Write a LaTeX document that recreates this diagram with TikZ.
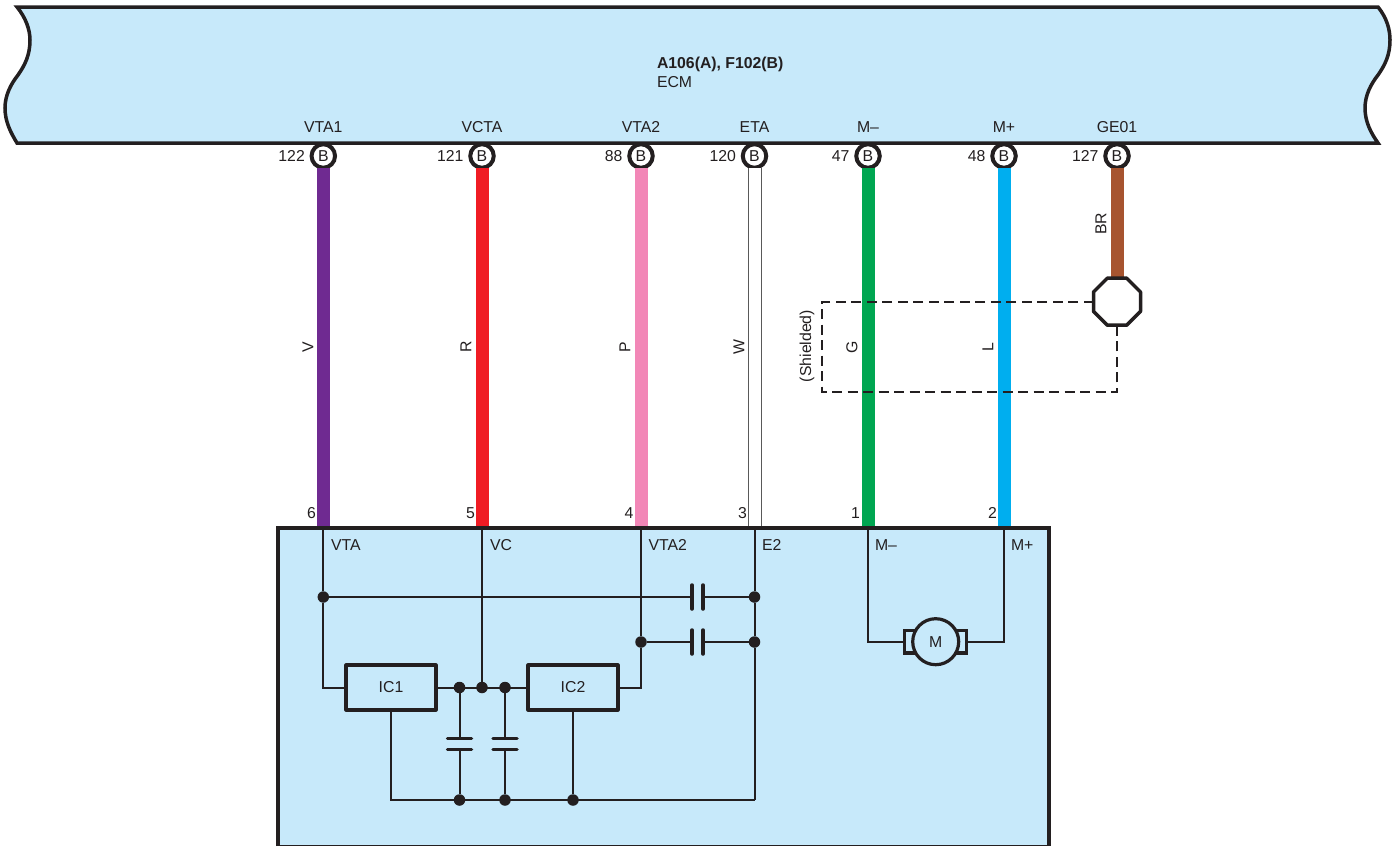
\documentclass[tikz,border=0pt]{standalone}
\usepackage{fontspec}
\setmainfont{Liberation Sans}
\usetikzlibrary{calc}
\definecolor{ecmblue}{HTML}{C7E9FA}
\definecolor{ink}{HTML}{231F20}
\definecolor{wireV}{HTML}{6F2A91}
\definecolor{wireR}{HTML}{F01C24}
\definecolor{wireP}{HTML}{F287B7}
\definecolor{wireG}{HTML}{00A651}
\definecolor{wireL}{HTML}{00AEEF}
\definecolor{wireBR}{HTML}{A7542F}
\tikzset{
  txt/.style={text=ink,inner sep=0pt,outer sep=0pt,font=\fontsize{15.8}{18}\selectfont},
  outline/.style={draw=ink,line width=3.5pt},
  pinnode/.style={circle,draw=ink,line width=4pt,fill=white,minimum size=23.5pt,inner sep=0pt,outer sep=0pt,txt},
  thickwire/.style={line width=13pt},
  thinline/.style={draw=ink,line width=2pt},
  plate/.style={draw=ink,line width=3.5pt,line cap=round},
  jdot/.style={circle,fill=ink,minimum size=11.5pt,inner sep=0pt,outer sep=0pt},
  icbox/.style={rectangle,draw=ink,line width=3.8pt,line join=round,minimum width=89.5pt,minimum height=44.5pt,inner sep=0pt,outer sep=0pt,txt},
  shieldline/.style={draw=ink,line width=2pt,dash pattern=on 10pt off 5.5pt},
  num/.style={txt,anchor=east},
  wlabel/.style={txt,rotate=90},
  inlabel/.style={txt,anchor=west}
}
\begin{document}
\begin{tikzpicture}[x=1pt,y=-1pt]
\useasboundingbox (0,0) rectangle (1397,846);
% ECM body
\draw[outline,fill=ecmblue,miter limit=10] (17,7) -- (1378,7)
  .. controls (1387,18) and (1390,30) .. (1390,40)
  .. controls (1390,55) and (1385,65) .. (1378,75)
  .. controls (1371,84) and (1365,95) .. (1365,108)
  .. controls (1365,122) and (1371,133) .. (1378,143)
  -- (17,143)
  .. controls (11,133) and (5,122) .. (5,108)
  .. controls (5,95) and (11,84) .. (18,75)
  .. controls (25,65) and (30,55) .. (30,40)
  .. controls (30,30) and (26,18) .. (17,7) -- cycle;
\node[txt,anchor=west,font=\fontsize{15.8}{18}\selectfont\bfseries] (ecmA) at (657,64.5) {A106(A), F102(B)};
\node[txt,anchor=west] (ecmB) at (657,82) {ECM};
% terminals at the sensor
\foreach \n/\x in {a/323.3,b/482,c/641,d/754.5,e/868,f/1004}
  \coordinate (t\n) at (\x,528);
% pins
\foreach \n/\x/\sig/\num in {a/323.3/VTA1/122,b/482/VCTA/121,c/641/VTA2/88,d/754.5/ETA/120,e/868/M–/47,f/1004/M+/48,g/1117/GE01/127}{
  \node[pinnode] (p\n) at (\x,156) {B};
  \node[txt] (s\n) at (\x,127) {\sig};
  \node[num] (n\n) at (\x-18.5,156) {\num};
}
% wires
\draw[wireV,thickwire] (pa.south) -- (ta);
\draw[wireR,thickwire] (pb.south) -- (tb);
\draw[wireP,thickwire] (pc.south) -- (tc);
\draw[draw=black!65,line width=1pt,double=white,double distance=12pt] (pd.south) -- (td);
\draw[wireG,thickwire] (pe.south) -- (te);
\draw[wireL,thickwire] (pf.south) -- (tf);
% shield connector (octagon)
\node[rectangle,minimum size=47pt,inner sep=0pt,outer sep=0pt] (oct) at (1117,301.7) {};
\draw[wireBR,thickwire] (pg.south) -- (oct.north);
\draw[outline,fill=white,line join=round]
  ($(oct.north)+(-9.7,0)$) -- ($(oct.north)+(9.7,0)$) -- ($(oct.east)+(0,-9.7)$) -- ($(oct.east)+(0,9.7)$)
  -- ($(oct.south)+(9.7,0)$) -- ($(oct.south)+(-9.7,0)$) -- ($(oct.west)+(0,9.7)$) -- ($(oct.west)+(0,-9.7)$) -- cycle;
% shield
\coordinate (sh1) at (822,301.7);
\coordinate (sh2) at (822,392);
\coordinate (sh3) at (1117,392);
\draw[shieldline] (oct.west) -- (sh1) -- (sh2) -- (sh3) -- (oct.south);
% wire labels
\node[wlabel] (lV) at (308,347) {V};
\node[wlabel] (lR) at (466,347) {R};
\node[wlabel] (lP) at (625,347) {P};
\node[wlabel] (lW) at (739,347) {W};
\node[wlabel] (lG) at (852,347) {G};
\node[wlabel] (lL) at (988,347) {L};
\node[wlabel] (lBR) at (1101,224) {BR};
\node[wlabel] (lS) at (807,346) {(Shielded)};
% pin numbers at sensor
\node[num] (q6) at (316,513) {6};
\node[num] (q5) at (475,513) {5};
\node[num] (q4) at (633.5,513) {4};
\node[num] (q3) at (747,513) {3};
\node[num] (q1) at (860,513) {1};
\node[num] (q2) at (997,513) {2};
% sensor box
\path[fill=ecmblue] (278,528) rectangle (1049,845);
\draw[outline] (278,846) -- (278,528) -- (1049,528) -- (1049,846);
\draw[draw=ink,line width=1.5pt] (278,845.5) -- (1049,845.5);
% inside labels
\node[inlabel] (iA) at (331,545) {VTA};
\node[inlabel] (iB) at (490,545) {VC};
\node[inlabel] (iC) at (648.5,545) {VTA2};
\node[inlabel] (iD) at (762,545) {E2};
\node[inlabel] (iE) at (875,545) {M–};
\node[inlabel] (iF) at (1011,545) {M+};
% ICs
\node[icbox] (ic1) at (391,687.5) {IC1};
\node[icbox] (ic2) at (573,687.5) {IC2};
% junctions
\node[jdot] (j1) at (323.3,597) {};
\node[jdot] (j2) at (754.5,597) {};
\node[jdot] (j3) at (641,642) {};
\node[jdot] (j4) at (754.5,642) {};
\node[jdot] (j5) at (459.5,687.5) {};
\node[jdot] (j6) at (482,687.5) {};
\node[jdot] (j7) at (505,687.5) {};
\node[jdot] (j8) at (459.5,800) {};
\node[jdot] (j9) at (505,800) {};
\node[jdot] (j10) at (573,800) {};
\coordinate (gndL) at (391,800);
\coordinate (gndR) at (754.5,800);
% capacitor plates
\coordinate (c1a) at (692,597); \coordinate (c1b) at (703,597);
\coordinate (c2a) at (692,642); \coordinate (c2b) at (703,642);
\coordinate (c3a) at (459.5,738.5); \coordinate (c3b) at (459.5,749.5);
\coordinate (c4a) at (505,738.5); \coordinate (c4b) at (505,749.5);
\draw[plate] ($(c1a)+(0,-12)$) -- ($(c1a)+(0,12)$);
\draw[plate] ($(c1b)+(0,-12)$) -- ($(c1b)+(0,12)$);
\draw[plate] ($(c2a)+(0,-12)$) -- ($(c2a)+(0,12)$);
\draw[plate] ($(c2b)+(0,-12)$) -- ($(c2b)+(0,12)$);
\draw[plate] ($(c3a)+(-12,0)$) -- ($(c3a)+(12,0)$);
\draw[plate] ($(c3b)+(-12,0)$) -- ($(c3b)+(12,0)$);
\draw[plate] ($(c4a)+(-12,0)$) -- ($(c4a)+(12,0)$);
\draw[plate] ($(c4b)+(-12,0)$) -- ($(c4b)+(12,0)$);
% internal wiring
\draw[thinline] (ta) -- (j1);
\draw[thinline] (j1) |- (ic1.west);
\draw[thinline] (tb) -- (j6);
\draw[thinline] (tc) -- (j3);
\draw[thinline] (j3) |- (ic2.east);
\draw[thinline] (td) -- (j2);
\draw[thinline] (j2) -- (j4);
\draw[thinline] (j4) -- (gndR);
\draw[thinline] (j1) -- (c1a);
\draw[thinline] (c1b) -- (j2);
\draw[thinline] (j3) -- (c2a);
\draw[thinline] (c2b) -- (j4);
\draw[thinline] (ic1.east) -- (ic2.west);
\draw[thinline] (j5) -- (c3a);
\draw[thinline] (c3b) -- (j8);
\draw[thinline] (j7) -- (c4a);
\draw[thinline] (c4b) -- (j9);
\draw[thinline] (ic1.south) -- (gndL) -- (gndR);
\draw[thinline] (ic2.south) -- (j10);
% motor
\node[rectangle,draw=ink,line width=3.5pt,minimum width=62pt,minimum height=22.5pt,inner sep=0pt,outer sep=0pt] (brush) at (935.7,641.7) {};
\node[circle,draw=ink,line width=3.2pt,fill=ecmblue,minimum size=46pt,inner sep=0pt,outer sep=0pt,txt] (motor) at (935.7,641.7) {M};
\draw[thinline] (te) |- (brush.west);
\draw[thinline] (tf) |- (brush.east);
\end{tikzpicture}
\end{document}
